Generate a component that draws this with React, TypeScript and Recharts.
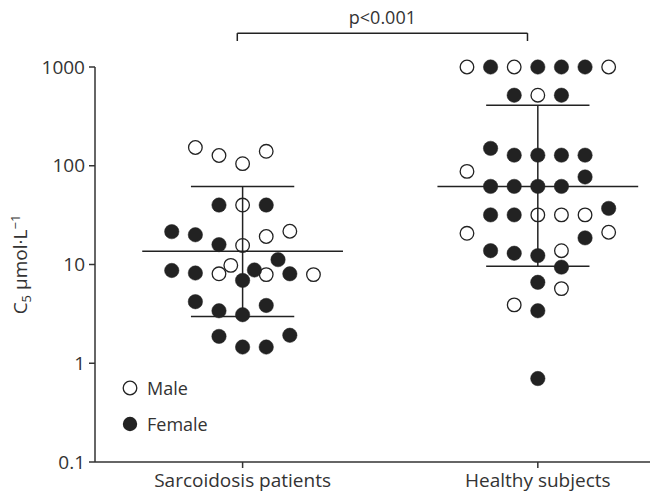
import React from "react";
import {
  ScatterChart,
  Scatter,
  XAxis,
  YAxis,
  ReferenceLine,
  Legend,
} from "recharts";

// Categories (x positions 1 and 2)
const categories = ["Sarcoidosis patients", "Healthy subjects"];
const categoryTicks = [1, 2];
const yTicks = [0.1, 1, 10, 100, 1000];

// Sarcoidosis patients – male (open) : [x, value]
const sarcMale: [number, number][] = [
  [0.84, 153], [0.92, 127], [1.0, 105], [1.08, 140],
  [1.0, 40], [1.16, 21.7], [1.08, 19.2], [1.0, 15.6],
  [0.96, 9.8], [0.92, 8.05], [1.08, 7.9], [1.24, 7.9],
];
// Sarcoidosis patients – female (filled)
const sarcFemale: [number, number][] = [
  [0.92, 40], [1.08, 40],
  [0.76, 21.5], [0.84, 20], [0.92, 15.9],
  [1.12, 11.2], [1.04, 8.8], [0.76, 8.7], [0.84, 8.2], [1.16, 8.05], [1.0, 6.9],
  [0.84, 4.2], [0.92, 3.4], [1.0, 3.1], [1.08, 3.85],
  [0.92, 1.87], [1.0, 1.46], [1.08, 1.46], [1.16, 1.92],
];
// Healthy subjects – male (open)
const healthyMale: [number, number][] = [
  [1.76, 1000], [1.92, 1000], [2.24, 1000],
  [2.0, 518],
  [1.76, 87.7],
  [2.0, 31.8], [2.08, 31.8], [2.16, 31.8],
  [1.76, 20.7], [2.24, 21.2],
  [2.08, 13.8],
  [2.08, 5.7],
  [1.92, 3.9],
];
// Healthy subjects – female (filled)
const healthyFemale: [number, number][] = [
  [1.84, 1000], [2.0, 1000], [2.08, 1000], [2.16, 1000],
  [1.92, 518], [2.08, 518],
  [1.84, 150],
  [1.92, 128], [2.0, 128], [2.08, 128], [2.16, 128],
  [2.16, 77],
  [1.84, 61.8], [1.92, 61.8], [2.0, 61.8], [2.08, 61.8],
  [1.84, 31.8], [1.92, 31.8], [2.24, 37],
  [2.16, 18.6],
  [1.84, 13.8], [1.92, 13], [2.0, 12.3],
  [2.08, 9.4],
  [2.0, 6.6],
  [2.0, 3.4],
  [2.0, 0.7],
];

// Summary statistics per group (mean, upper, lower)
const groupMean = [13.6, 61.8];
const groupUpper = [61.8, 410];
const groupLower = [2.98, 9.6];
const meanHalfWidth = 0.34;
const sdHalfWidth = 0.175;

// Significance bracket
const bracketX = [0.982, 1.965];
const bracketTop = 2203;
const bracketFoot = 1834;
const pLabel = "p<0.001";

const toPoints = (arr: [number, number][]) => arr.map(([x, y]) => ({ x, y }));

const INK = "#222";
const TEXT = "#333";
const FONT = "'Open Sans', Roboto, sans-serif";

const OpenDot = (props: any) => {
  const { cx, cy } = props;
  if (cx == null || cy == null) return null;
  return <circle cx={cx} cy={cy} r={6.8} fill="none" stroke={INK} strokeWidth={1.3} />;
};
const FilledDot = (props: any) => {
  const { cx, cy } = props;
  if (cx == null || cy == null) return null;
  return <circle cx={cx} cy={cy} r={7.2} fill={INK} stroke={INK} strokeWidth={0.5} />;
};

const YLabel = (props: any) => {
  const vb = props.viewBox || { x: 0, y: 0, width: 95, height: 400 };
  const cx = vb.x + 27;
  const cy = vb.y + vb.height / 2;
  return (
    <text
      x={cx}
      y={cy}
      transform={`rotate(-90, ${cx}, ${cy})`}
      textAnchor="middle"
      fontSize={19}
      fill={TEXT}
      fontFamily={FONT}
    >
      C
      <tspan fontSize={13} dy={4}>5</tspan>
      <tspan dy={-4}> µmol·L</tspan>
      <tspan fontSize={13} dy={-7}>−1</tspan>
    </text>
  );
};

const LegendContent = () => (
  <div style={{ fontFamily: FONT, fontSize: 18, color: TEXT, lineHeight: "36px" }}>
    <div style={{ display: "flex", alignItems: "center" }}>
      <svg width={16} height={16} style={{ marginRight: 9, flexShrink: 0 }}>
        <circle cx={8} cy={8} r={6.8} fill="none" stroke={INK} strokeWidth={1.3} />
      </svg>
      <span>Male</span>
    </div>
    <div style={{ display: "flex", alignItems: "center" }}>
      <svg width={16} height={16} style={{ marginRight: 9, flexShrink: 0 }}>
        <circle cx={8} cy={8} r={7.2} fill={INK} />
      </svg>
      <span>Female</span>
    </div>
  </div>
);

export default function App() {
  const centers = categoryTicks;
  return (
    <div style={{ position: "absolute", left: 0, top: 0, width: 655, height: 500, background: "#fff" }}>
      <ScatterChart
        width={655}
        height={500}
        margin={{ top: 67, right: 5, bottom: 0, left: 0 }}
        style={{ fontFamily: FONT, overflow: "visible" }}
      >
        <XAxis
          type="number"
          dataKey="x"
          domain={[0.5, 2.38]}
          ticks={categoryTicks}
          tickFormatter={(v: number) => categories[Math.round(v) - 1] ?? ""}
          tickSize={6}
          tickMargin={6}
          stroke={TEXT}
          strokeWidth={1.5}
          tick={{ fontSize: 19, fill: TEXT, fontFamily: FONT }}
          height={38}
        />
        <YAxis
          type="number"
          dataKey="y"
          scale="log"
          domain={[0.1, 1000]}
          ticks={yTicks}
          tickFormatter={(v: number) => String(v)}
          width={95}
          tickSize={6}
          tickMargin={4}
          stroke={TEXT}
          strokeWidth={1.5}
          tick={{ fontSize: 19, fill: TEXT, fontFamily: FONT }}
          label={<YLabel />}
        />

        {centers.map((c, i) => (
          <ReferenceLine
            key={`mean-${i}`}
            segment={[
              { x: c - meanHalfWidth, y: groupMean[i] },
              { x: c + meanHalfWidth, y: groupMean[i] },
            ]}
            stroke={INK}
            strokeWidth={1.5}
          />
        ))}
        {centers.map((c, i) => (
          <ReferenceLine
            key={`up-${i}`}
            segment={[
              { x: c - sdHalfWidth, y: groupUpper[i] },
              { x: c + sdHalfWidth, y: groupUpper[i] },
            ]}
            stroke={INK}
            strokeWidth={1.5}
          />
        ))}
        {centers.map((c, i) => (
          <ReferenceLine
            key={`lo-${i}`}
            segment={[
              { x: c - sdHalfWidth, y: groupLower[i] },
              { x: c + sdHalfWidth, y: groupLower[i] },
            ]}
            stroke={INK}
            strokeWidth={1.5}
          />
        ))}
        {centers.map((c, i) => (
          <ReferenceLine
            key={`vert-${i}`}
            segment={[
              { x: c, y: groupLower[i] },
              { x: c, y: groupUpper[i] },
            ]}
            stroke={INK}
            strokeWidth={1.5}
          />
        ))}

        <ReferenceLine
          segment={[
            { x: bracketX[0], y: bracketTop },
            { x: bracketX[1], y: bracketTop },
          ]}
          stroke={INK}
          strokeWidth={1.5}
          ifOverflow="visible"
          label={{ value: pLabel, position: "top", offset: 9, fontSize: 18, fill: TEXT, fontFamily: FONT }}
        />
        <ReferenceLine
          segment={[
            { x: bracketX[0], y: bracketTop },
            { x: bracketX[0], y: bracketFoot },
          ]}
          stroke={INK}
          strokeWidth={1.5}
          ifOverflow="visible"
        />
        <ReferenceLine
          segment={[
            { x: bracketX[1], y: bracketTop },
            { x: bracketX[1], y: bracketFoot },
          ]}
          stroke={INK}
          strokeWidth={1.5}
          ifOverflow="visible"
        />

        <Scatter name="Male" data={toPoints(sarcMale)} shape={<OpenDot />} isAnimationActive={false} />
        <Scatter name="Female" data={toPoints(sarcFemale)} shape={<FilledDot />} isAnimationActive={false} />
        <Scatter name="Male " data={toPoints(healthyMale)} shape={<OpenDot />} isAnimationActive={false} />
        <Scatter name="Female " data={toPoints(healthyFemale)} shape={<FilledDot />} isAnimationActive={false} />

        <Legend
          layout="vertical"
          align="center"
          verticalAlign="middle"
          content={<LegendContent />}
          wrapperStyle={{ position: "absolute", left: 122, top: 370, width: 160, height: 72 }}
        />
      </ScatterChart>
    </div>
  );
}
